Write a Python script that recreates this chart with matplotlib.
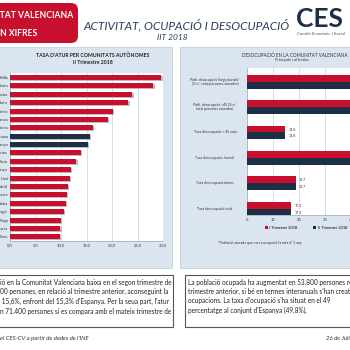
import matplotlib
matplotlib.use("Agg")
import matplotlib.pyplot as plt
from matplotlib.patches import Rectangle, FancyBboxPatch
from matplotlib.transforms import blended_transform_factory

plt.rcParams['font.family'] = ['Lato', 'DejaVu Sans']

# ── dades: taxa d'atur per comunitats (II Trimestre 2018)
COMUNITATS = ['Melilla', 'Ceuta', 'Andalusia', 'Extremadura', 'Canàries',
              'Castella-La Manxa', 'Múrcia', 'C. Valenciana', 'Espanya',
              'Astúries', 'Galícia', 'Catalunya', 'Castella i Lleó',
              'Madrid', 'Illes Balears', 'Cantàbria', 'Aragó', 'La Rioja',
              'Navarra', 'País Basc']
TAXA_ATUR = [29.7, 28.1, 24.0, 23.2, 20.1, 19.2, 16.2, 15.6, 15.3, 13.9,
             13.0, 12.0, 11.8, 11.4, 11.2, 11.0, 10.5, 10.0, 9.9, 9.8]
DESTACATS = ['C. Valenciana', 'Espanya']
XTICKS_ESQ = [0, 5, 10, 15, 20, 25, 30]

# ── dades: desocupació a la C. Valenciana, principals col·lectius
COLLECTIUS = ['Pobl. desocupada llarga durada*\n(% s/. total persones aturades)',
              'Pobl. desocupada >45 (% s/.\ntotal persones aturades)',
              'Taxa desocupació > 45 anys',
              'Taxa desocupació Juvenil',
              'Taxa desocupació dones',
              'Taxa desocupació total']
T1_2018 = [46.0, 46.5, 14.8, 41.0, 18.7, 17.1]
T2_2018 = [45.5, 46.0, 14.8, 41.5, 18.7, 17.1]
XTICKS_DRE = [0, 10, 20, 30, 40, 50, 60]

RED = '#c8102e'
NAVY = '#1c2f47'
PANEL = '#dbe5f0'
TITLE = '#2a3f5f'
GRID = '#c3d1e2'

W, H = 350, 350
def fx(x): return x / W
def fy(y): return 1 - y / H
def box(x0, y0, x1, y1): return [fx(x0), fy(y1), (x1 - x0) / W, (y1 - y0) / H]

fig = plt.figure(figsize=(3.5, 3.5), dpi=100, facecolor='white')

# ── capçalera
fig.add_artist(FancyBboxPatch((fx(-20), fy(43)), fx(98), 40 / H,
                              boxstyle='round,pad=0,rounding_size=0.02',
                              transform=fig.transFigure, fc=RED, ec='none', zorder=-1))
fig.text(fx(73), fy(15), 'COMUNITAT VALENCIANA', ha='right', va='center',
         fontsize=6.2, color='white', fontweight='bold')
fig.text(fx(37), fy(33), 'EN XIFRES', ha='right', va='center',
         fontsize=6.2, color='white', fontweight='bold')
fig.text(fx(186), fy(25), 'ACTIVITAT, OCUPACIÓ I DESOCUPACIÓ', ha='center', va='center',
         fontsize=8.6, color=TITLE, style='italic')
fig.text(fx(172), fy(38), 'IIT 2018', ha='center', va='center',
         fontsize=6, color=TITLE, style='italic')
fig.text(fx(296), fy(19), 'CES', ha='left', va='center', fontsize=19,
         color=NAVY, fontweight='bold')
fig.text(fx(297), fy(34), 'Comitè Econòmic i Social', ha='left', va='center',
         fontsize=3.2, color='#555555')

# ── panells de fons
for x0, x1 in [(-5, 172), (180, 360)]:
    fig.add_artist(Rectangle((fx(x0), fy(268)), (x1 - x0) / W, (268 - 47) / H,
                             transform=fig.transFigure, fc=PANEL, ec='#b9c9dc',
                             lw=0.5, zorder=-1))

# ── gràfic esquerre: taxa d'atur per CCAA
fig.text(fx(93), fy(55.5), "TASA D'ATUR PER COMUNITATS AUTÒNOMES", ha='center',
         va='center', fontsize=3.7, color='#222222', fontweight='bold')
fig.text(fx(93), fy(62.5), 'II Trimestre 2018', ha='center', va='center',
         fontsize=3.7, color='#222222', fontweight='bold')

ax1 = fig.add_axes(box(10, 73.3, 163, 241))
ax1.set_facecolor('white')
colors = [NAVY if c in DESTACATS else RED for c in COMUNITATS]
ypos = list(range(len(COMUNITATS)))
ax1.barh([y + 0.12 for y in ypos], TAXA_ATUR, height=0.6, color='#bbbbbb',
         left=0.25, zorder=2)
ax1.barh(ypos, TAXA_ATUR, height=0.6, color=colors, zorder=3)
ax1.set_xlim(0, 30)
ax1.set_ylim(len(COMUNITATS) - 0.5, -0.5)
ax1.set_yticks(ypos)
ax1.set_yticklabels(COMUNITATS, fontsize=3, color='#333333')
ax1.set_xticks(XTICKS_ESQ)
ax1.set_xticklabels([f"{t:.1f}".replace('.', ',') for t in XTICKS_ESQ],
                    fontsize=3, color='#333333')
ax1.tick_params(length=0, pad=1.5)
ax1.grid(True, axis='x', color=GRID, lw=0.5, zorder=0)
ax1.set_axisbelow(True)
for s in ['top', 'right']:
    ax1.spines[s].set_visible(False)
for s in ['left', 'bottom']:
    ax1.spines[s].set_color('#9aa9bb')
    ax1.spines[s].set_linewidth(0.5)

# ── gràfic dret: col·lectius
fig.text(fx(295), fy(55), 'DESOCUPACIÓ EN LA COMUNITAT VALENCIANA', ha='center',
         va='center', fontsize=3.3, color='#333333')
fig.text(fx(292), fy(60.5), 'Principals col·lectius', ha='center', va='center',
         fontsize=2.8, color='#333333')

ax2 = fig.add_axes(box(246.7, 68, 246.7 + 26.1 * 6, 215))
ax2.set_facecolor('white')
n = len(COLLECTIUS)
bh = 0.27
yc = list(range(n))
b1 = ax2.barh([y - bh / 2 for y in yc], T1_2018, height=bh, color=RED,
              label='I Trimestre 2018', zorder=3)
b2 = ax2.barh([y + bh / 2 for y in yc], T2_2018, height=bh, color=NAVY,
              label='II Trimestre 2018', zorder=3)
for y, v1, v2 in zip(yc, T1_2018, T2_2018):
    ax2.text(v1 + 1.2, y - bh / 2, f"{v1:.1f}".replace('.', ','), fontsize=2.6,
             va='center', color='#333333')
    ax2.text(v2 + 1.2, y + bh / 2, f"{v2:.1f}".replace('.', ','), fontsize=2.6,
             va='center', color='#333333')
ax2.set_xlim(0, 60)
ax2.set_ylim(n - 0.75, -0.54)
ax2.set_yticks([])
ax2.set_xticks(XTICKS_DRE)
ax2.set_xticklabels([str(t) for t in XTICKS_DRE], fontsize=3, color='#333333')
ax2.tick_params(length=0, pad=2)
ax2.grid(True, axis='x', color=GRID, lw=0.5, zorder=0)
ax2.set_axisbelow(True)
for s in ['top', 'right']:
    ax2.spines[s].set_visible(False)
for s in ['left', 'bottom']:
    ax2.spines[s].set_color('#9aa9bb')
    ax2.spines[s].set_linewidth(0.5)
tr = blended_transform_factory(fig.transFigure, ax2.transData)
for y, lab in zip(yc, COLLECTIUS):
    ax2.text(fx(215), y, lab, transform=tr, ha='center', va='center',
             fontsize=2.5, color='#333333', linespacing=1.1)

fig.legend(handles=[b1, b2], loc='center', bbox_to_anchor=(fx(306), fy(228)),
           ncol=2, fontsize=2.8, frameon=False, handlelength=0.8, handleheight=0.8,
           columnspacing=4, handletextpad=0.4)
fig.text(fx(260), fy(243), "*Població aturada que cerca ocupació fa més d' 1 any",
         ha='center', va='center', fontsize=2.6, color='#333333')

# ── caixes de text
for x0, x1 in [(-5, 172.5), (185, 360)]:
    fig.add_artist(Rectangle((fx(x0), fy(327)), (x1 - x0) / W, (327 - 275) / H,
                             transform=fig.transFigure, fc='white', ec='#555555',
                             lw=0.8, zorder=-1))

TXT_ESQ = ['ió en la Comunitat Valenciana baixa en el segon trimestre de',
           '00 persones, en relació al trimestre anterior, aconseguint la',
           ' 15,6%, enfront del 15,3% d\'Espanya. Per la seua part, l\'atur',
           'n 71.400 persones si es compara amb el mateix trimestre de']
TXT_DRE = ['La població ocupada ha augmentat en 53.800 persones respecte al',
           'trimestre anterior, si bé en termes interanuals s\'han creat',
           'ocupacions. La taxa d\'ocupació s\'ha situat en el 49',
           'percentatge al conjunt d\'Espanya (49,8%).']
for i, line in enumerate(TXT_ESQ):
    fig.text(fx(0), fy(282 + 9.8 * i), line, ha='left', va='center',
             fontsize=4.7, color='#222222')
for i, line in enumerate(TXT_DRE):
    fig.text(fx(188), fy(282 + 9.4 * i), line, ha='left', va='center',
             fontsize=4.7, color='#222222')

# ── peu
fig.text(fx(0), fy(338), "el CES-CV a partir de dades de l'INE", ha='left',
         va='center', fontsize=4.3, color='#333333', style='italic')
fig.text(fx(326), fy(338), '26 de Juliol de 2018', ha='left', va='center',
         fontsize=4.3, color='#333333', style='italic')

fig.savefig('out.png', dpi=100, facecolor='white')
